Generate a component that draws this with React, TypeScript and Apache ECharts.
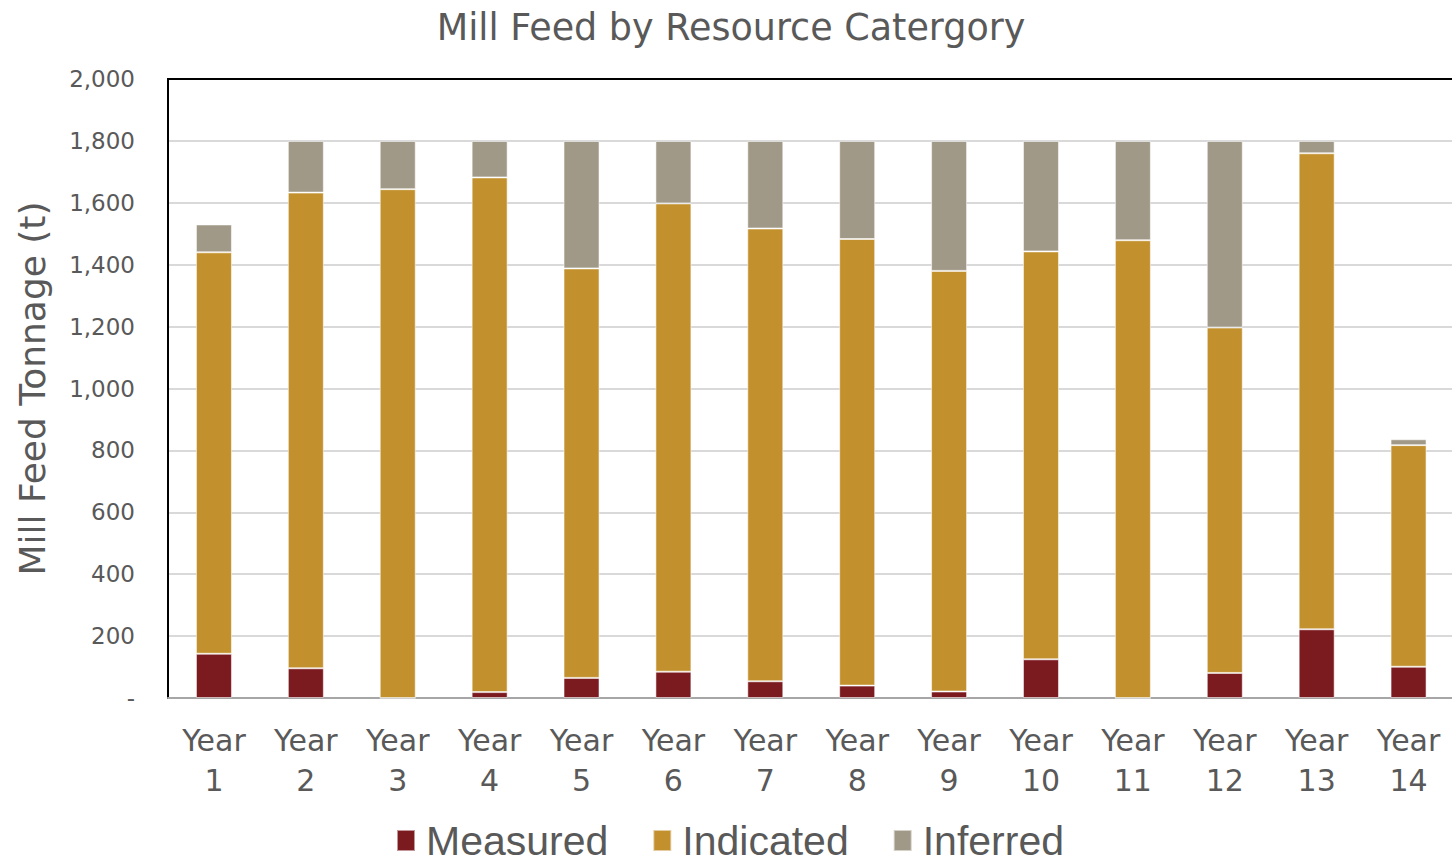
import React, { useEffect, useRef } from "react";
import * as echarts from "echarts";

const years = [
  "Year\n1", "Year\n2", "Year\n3", "Year\n4", "Year\n5", "Year\n6", "Year\n7",
  "Year\n8", "Year\n9", "Year\n10", "Year\n11", "Year\n12", "Year\n13", "Year\n14",
];

const measured = [143, 96, 0, 19, 65, 85, 54, 40, 21, 125, 0, 81, 222, 101];
const indicated = [1297, 1537, 1644, 1663, 1323, 1513, 1463, 1443, 1359, 1318, 1479, 1116, 1538, 716];
const inferred = [90, 167, 156, 118, 412, 202, 283, 317, 420, 357, 321, 603, 40, 19];

const seriesNames = ["Measured", "Indicated", "Inferred"];
const seriesColors = ["#7B1A1F", "#C2912E", "#A19987"];

const FONT = "'DejaVu Sans', sans-serif";
const LEGEND_FONT = "'Liberation Sans', Arial, sans-serif";
const TEXT = "#595959";

export default function App() {
  const ref = useRef<HTMLDivElement>(null);

  useEffect(() => {
    if (!ref.current) return;
    const chart = echarts.init(ref.current, undefined, { renderer: "svg" });
    const values = [measured, indicated, inferred];

    chart.setOption({
      animation: false,
      backgroundColor: "#ffffff",
      textStyle: { fontFamily: FONT },
      title: {
        text: "Mill Feed by Resource Catergory",
        left: 726,
        textAlign: "center",
        top: 4,
        textStyle: { fontFamily: FONT, fontSize: 36.5, fontWeight: "normal", color: TEXT },
      },
      legend: {
        top: 815,
        left: "center",
        itemWidth: 18,
        itemHeight: 21,
        itemGap: 44,
        icon: "rect",
        textStyle: { fontFamily: LEGEND_FONT, fontSize: 41, color: TEXT, padding: [0, 0, 0, 6] },
        data: seriesNames,
      },
      grid: {
        left: 168,
        right: 5.5,
        top: 79,
        bottom: 165,
        show: true,
        borderColor: "#000000",
        borderWidth: 2,
        containLabel: false,
      },
      xAxis: {
        type: "category",
        data: years,
        axisLine: { show: true, lineStyle: { color: "#A6A6A6", width: 2 } },
        axisTick: { show: false },
        axisLabel: {
          fontFamily: FONT,
          fontSize: 30,
          lineHeight: 40,
          color: TEXT,
          margin: 22,
          interval: 0,
        },
      },
      yAxis: {
        type: "value",
        min: 0,
        max: 2000,
        interval: 200,
        name: "Mill Feed Tonnage (t)",
        nameLocation: "middle",
        nameGap: 118,
        nameTextStyle: { fontFamily: FONT, fontSize: 36, color: TEXT },
        axisLine: { show: true, lineStyle: { color: "#000000", width: 2 } },
        axisTick: { show: false },
        splitLine: { showMaxLine: false, lineStyle: { color: "#D9D9D9", width: 2 } },
        axisLabel: {
          fontFamily: FONT,
          fontSize: 23,
          color: TEXT,
          margin: 33,
          formatter: (v: number) => (v === 0 ? "-" : v.toLocaleString("en-US")),
        },
      },
      series: seriesNames.map((name, i) => ({
        name,
        type: "bar",
        stack: "total",
        barWidth: 36,
        data: values[i],
        itemStyle: {
          color: seriesColors[i],
          borderColor: "rgba(255,255,255,0.55)",
          borderWidth: 1,
        },
      })),
    });

    return () => chart.dispose();
  }, []);

  return (
    <div
      ref={ref}
      style={{ position: "fixed", left: 0, top: 0, width: 1460, height: 863 }}
    />
  );
}
